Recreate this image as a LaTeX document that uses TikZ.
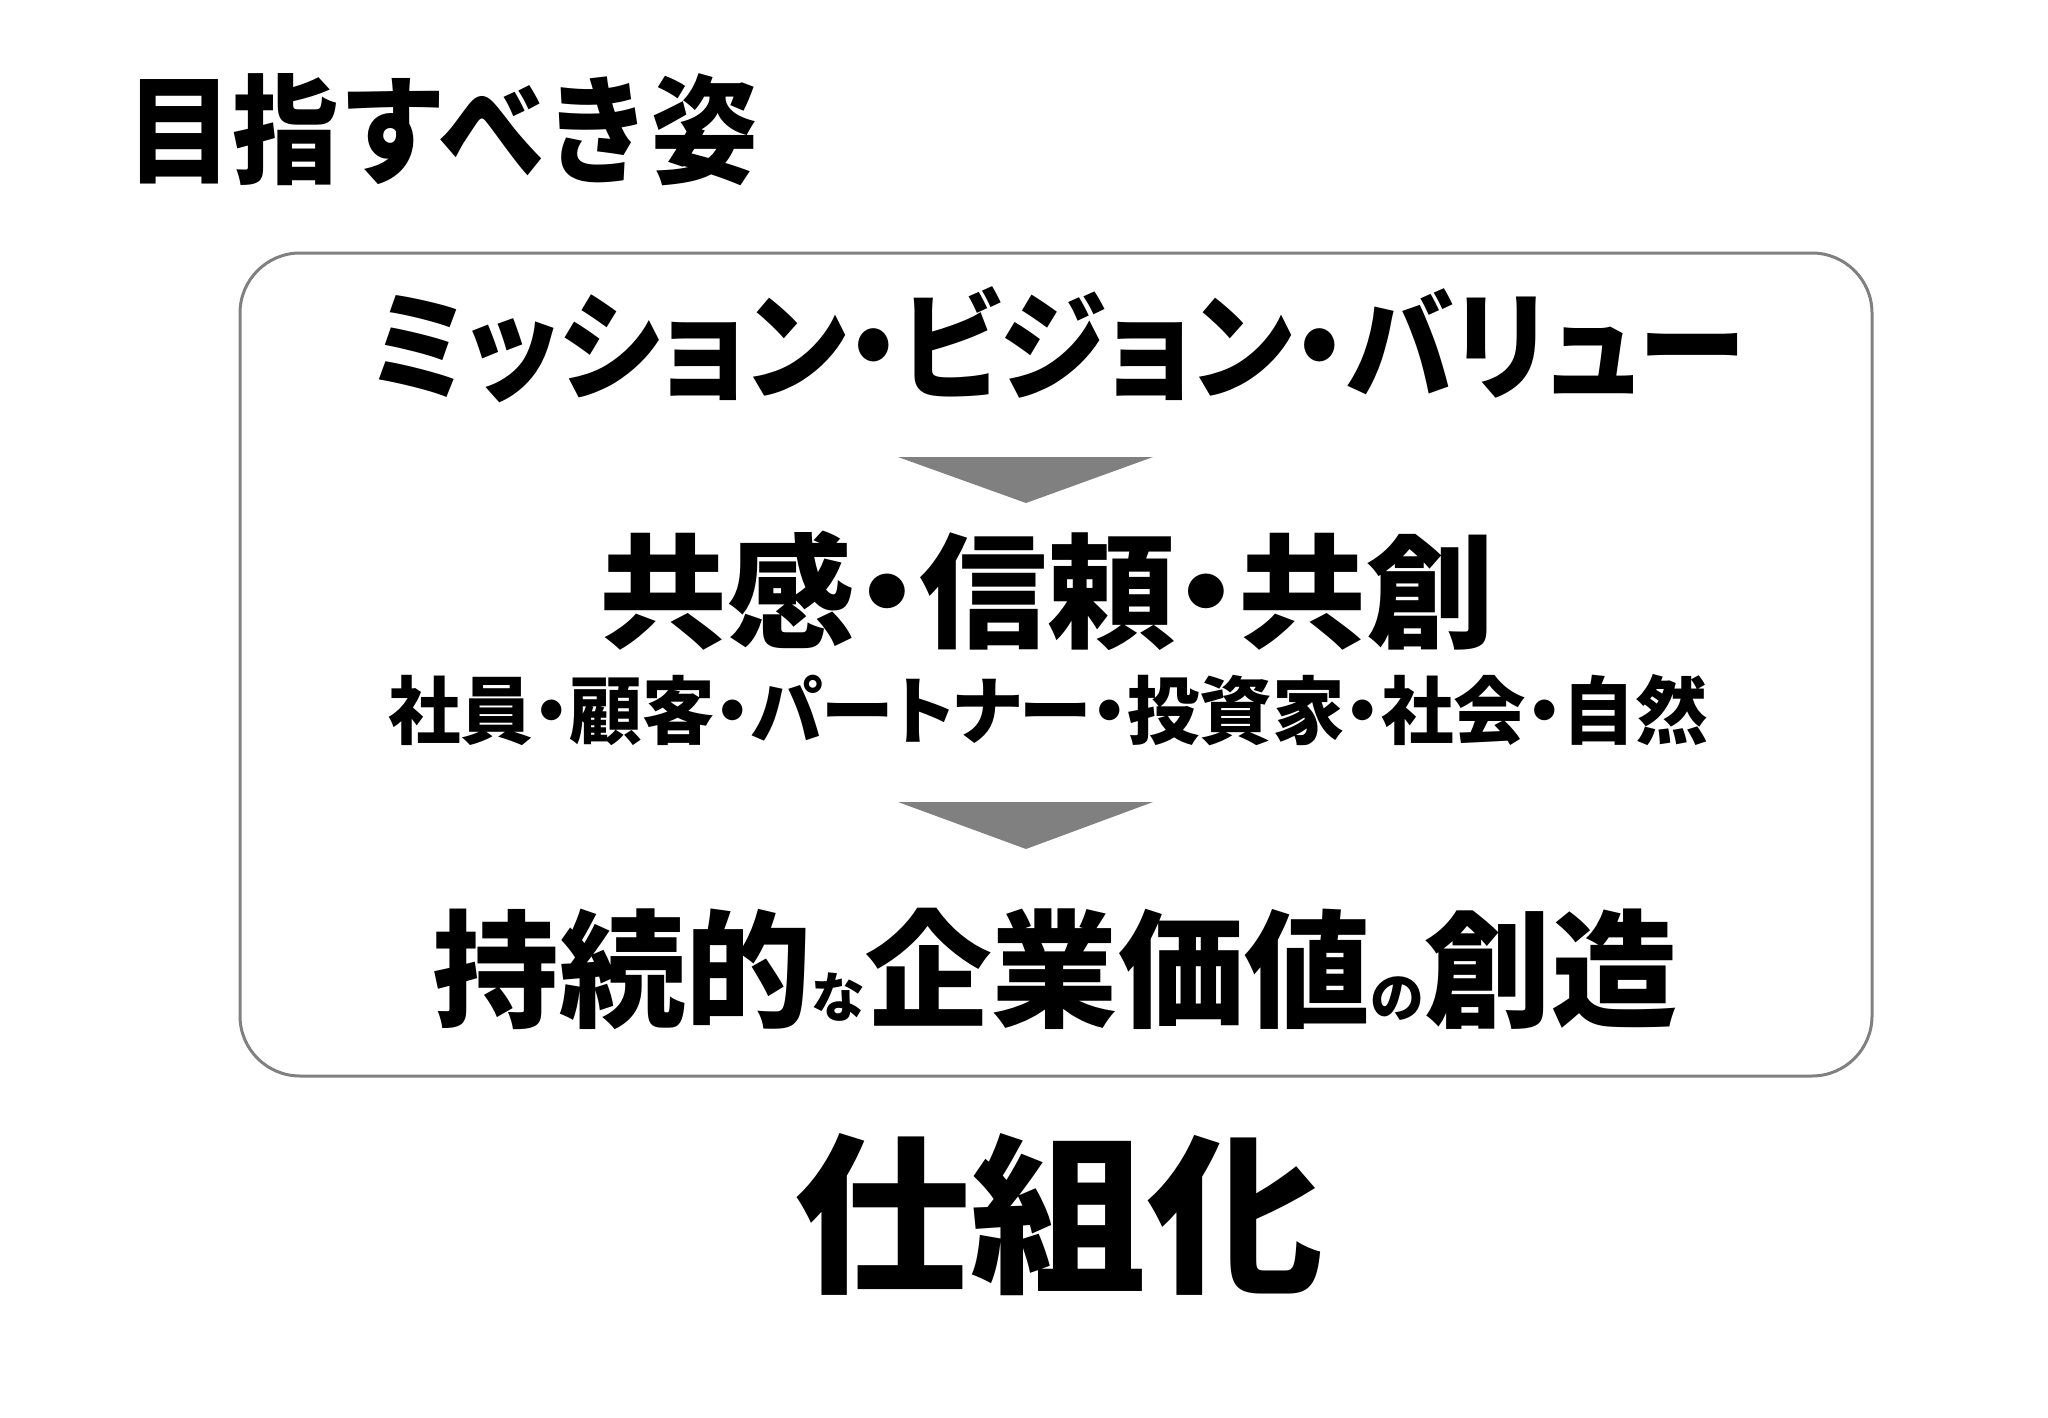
\documentclass[tikz,border=0pt]{standalone}
\usepackage{fontspec}
\newfontfamily\jp{Noto Sans CJK JP Black}
\newfontfamily\jpp{Noto Sans CJK JP Black}[RawFeature=+palt]
\definecolor{frame}{HTML}{808080}
\tikzset{
  txt/.style={inner sep=0pt, outer sep=0pt, anchor=center, text=black},
  tri/.style={fill=frame, draw=none},
}
\begin{document}
\begin{tikzpicture}[x=1pt,y=-1pt]
\useasboundingbox[fill=white] (0,0) rectangle (2048,1418);
% title
\node[txt, xscale=0.903] (title) at (442,130) {\jp\fontsize{118}{118}\selectfont 目指すべき姿};
% frame
\draw[frame, line width=3pt, rounded corners=60pt] (240,253) rectangle (1872,1076);
% line 1
\node[txt, xscale=0.912] (mvv) at (1058,345) {\jpp\fontsize{119}{119}\selectfont ミッション・ビジョン・バリュー};
% triangle 1
\coordinate (t1a) at (898,457);
\coordinate (t1b) at (1153,457);
\coordinate (t1c) at (1026,503);
\fill[tri] (t1a) -- (t1b) -- (t1c) -- cycle;
% line 2
\node[txt, xscale=1.03] (kyo) at (1047,591) {\jpp\fontsize{124}{124}\selectfont 共感・信頼・共創};
% sub
\node[txt, xscale=0.98] (stake) at (1048,710) {\jpp\fontsize{74}{74}\selectfont 社員・顧客・パートナー・投資家・社会・自然};
% triangle 2
\coordinate (t2a) at (898,802);
\coordinate (t2b) at (1153,802);
\coordinate (t2c) at (1026,849);
\fill[tri] (t2a) -- (t2b) -- (t2c) -- cycle;
% line 3
\node[txt, xscale=0.995] (value) at (1055,969) {\jp\fontsize{127}{127}\selectfont 持続的{\fontsize{54}{54}\selectfont な}企業価値{\fontsize{54}{54}\selectfont の}創造};
% bottom
\node[txt, xscale=1.03] (shikumi) at (1059,1215) {\jp\fontsize{171}{171}\selectfont 仕組化};
\end{tikzpicture}
\end{document}
